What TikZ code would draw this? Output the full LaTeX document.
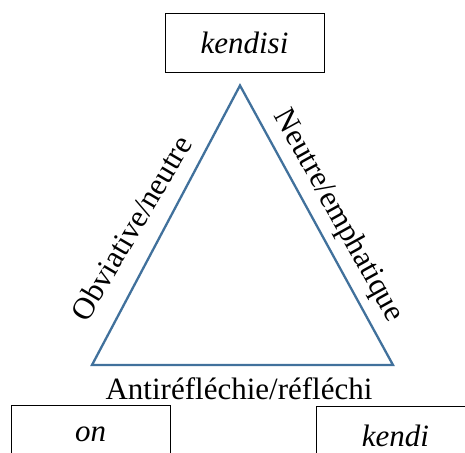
\documentclass[tikz,border=0pt]{standalone}
\usepackage{fontspec}
\setmainfont{Liberation Serif}
\definecolor{triblue}{HTML}{41719C}
\begin{document}
\begin{tikzpicture}[x=1pt,y=-1pt,
  wordbox/.style={draw=black,line width=0.9pt,minimum width=159pt,minimum height=59pt,inner sep=0pt,font=\fontsize{31}{37}\selectfont\itshape},
  sidelabel/.style={inner sep=0pt,font=\fontsize{31}{37}\selectfont}]
\useasboundingbox (0,0) rectangle (465,452);
\clip (0,0) rectangle (465,452);
\node[wordbox] (top) at (244.5,42.5) {kendisi};
\node[wordbox] (left) at (90.5,434.5) {on};
\node[wordbox] (right) at (395.5,435.5) {kendi};
\coordinate (A) at (240,85.5);
\coordinate (B) at (92,365);
\coordinate (C) at (393,365);
\draw[triblue,line width=2.3pt,line join=miter] (A) -- (B) -- (C) -- cycle;
\node[sidelabel,anchor=base] (base) at (239,399) {Antiréfléchie/réfléchi};
\node[sidelabel,rotate=59.5] (obv) at (131,228) {Obviative/neutre};
\node[sidelabel,rotate=-61] (neu) at (338,216) {Neutre/emphatique};
\end{tikzpicture}
\end{document}
